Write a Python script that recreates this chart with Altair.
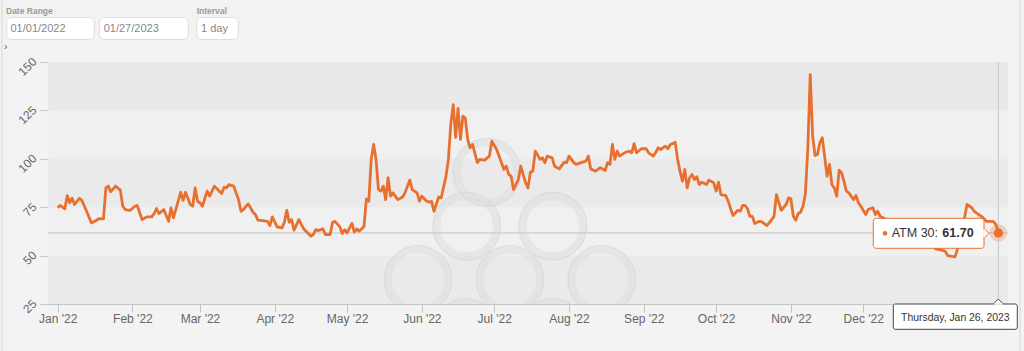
import altair as alt
import pandas as pd

# ---------------- data ----------------
day_offsets = [
    0, 1, 3, 4, 5, 6, 7, 9, 10, 12, 14, 16, 17, 19, 20, 21, 22, 24, 26, 27, 28, 30, 32, 33, 35, 37, 39, 40,
    41, 42, 44, 46, 47, 48, 51, 52, 53, 55, 56, 57, 58, 59, 60, 62, 63, 65, 67, 68, 69, 70, 71, 73, 75, 76,
    77, 79, 81, 82, 83, 85, 87, 88, 89, 91, 93, 94, 95, 96, 97, 98, 100, 102, 103, 105, 106, 107, 108, 110,
    111, 113, 114, 115, 117, 118, 119, 120, 122, 123, 124, 125, 127, 128, 129, 130, 131, 132, 133, 134, 135,
    136, 137, 138, 139, 141, 143, 144, 146, 147, 149, 150, 151, 153, 154, 155, 156, 158, 159, 161, 162, 163,
    164, 165, 166, 167, 168, 169, 170, 171, 172, 174, 175, 177, 179, 180, 182, 183, 185, 186, 187, 188, 189,
    191, 192, 194, 195, 196, 197, 198, 200, 201, 202, 203, 205, 206, 208, 210, 211, 212, 214, 215, 217, 219,
    220, 221, 223, 225, 227, 228, 229, 230, 231, 232, 233, 235, 237, 238, 239, 240, 242, 244, 245, 247, 248,
    249, 250, 252, 253, 254, 255, 256, 257, 258, 259, 260, 261, 262, 263, 264, 265, 266, 267, 269, 270, 272,
    273, 274, 275, 277, 278, 279, 280, 282, 283, 284, 285, 286, 287, 288, 289, 291, 292, 294, 295, 297, 298,
    299, 300, 302, 303, 304, 305, 306, 307, 308, 309, 310, 311, 312, 313, 314, 315, 316, 317, 318, 319, 320,
    321, 322, 323, 324, 325, 326, 327, 328, 330, 331, 332, 333, 335, 336, 338, 339, 340, 341, 343, 345, 347,
    349, 351, 353, 355, 357, 359, 361, 363, 364, 366, 368, 369, 372, 373, 375, 377, 379, 380, 382, 383, 385,
    387, 388, 389, 390,
]
atm30_values = [
    74.7, 75.9, 74.2, 81.0, 77.3, 79.6, 76.4, 79.5, 78.6, 72.9, 66.9, 68.1, 69.1, 69.0, 85.0, 85.9, 83.0, 85.9,
    83.8, 75.5, 73.8, 73.3, 75.5, 75.9, 68.6, 70.0, 70.0, 71.7, 74.3, 71.7, 73.8, 67.7, 74.7, 69.5, 82.7, 78.5,
    82.7, 76.4, 75.5, 85.0, 78.1, 77.3, 75.5, 83.3, 80.7, 85.9, 83.3, 82.1, 85.3, 85.0, 86.7, 85.9, 78.9, 72.9,
    73.8, 76.7, 72.4, 71.2, 68.3, 68.1, 67.7, 65.5, 70.0, 64.8, 64.3, 67.2, 73.4, 67.2, 68.6, 63.1, 68.6, 63.8,
    62.6, 60.0, 60.9, 63.4, 62.9, 63.8, 60.9, 60.9, 67.2, 67.7, 64.8, 61.4, 63.4, 61.7, 66.6, 62.1, 63.8, 62.6,
    65.0, 79.3, 78.1, 99.7, 107.4, 99.7, 84.1, 83.3, 85.9, 78.9, 90.2, 80.7, 82.4, 78.9, 80.3, 82.4, 89.0, 84.1,
    82.4, 78.1, 80.7, 78.1, 77.6, 78.1, 72.9, 80.3, 79.8, 91.0, 99.7, 118.0, 128.0, 111.0, 126.0, 110.0, 122.0,
    121.0, 110.0, 105.7, 107.4, 98.0, 99.7, 99.3, 101.4, 109.1, 104.8, 101.4, 94.5, 96.2, 91.9, 91.0, 84.1, 89.3,
    96.2, 87.6, 85.0, 93.1, 93.6, 104.0, 99.7, 100.5, 98.0, 101.4, 100.5, 96.2, 94.8, 98.3, 98.0, 101.4, 98.0,
    97.1, 98.0, 98.8, 101.4, 94.8, 93.6, 95.4, 94.0, 98.0, 97.1, 107.4, 99.7, 104.0, 101.4, 103.1, 104.0, 103.1,
    107.8, 103.1, 105.2, 105.2, 103.1, 101.4, 103.4, 105.7, 104.8, 106.5, 105.2, 107.4, 107.8, 108.6, 100.0,
    93.6, 88.4, 94.5, 85.0, 90.2, 91.9, 89.3, 90.7, 86.7, 87.9, 86.7, 89.0, 87.6, 83.3, 87.9, 81.5, 81.0, 78.1,
    74.2, 70.7, 73.4, 72.9, 75.9, 75.9, 74.2, 70.3, 70.3, 66.6, 67.7, 67.4, 65.5, 66.9, 70.3, 81.5, 77.3, 73.4,
    76.4, 79.8, 79.3, 70.3, 68.3, 71.7, 72.4, 75.5, 82.0, 105.0, 143.5, 112.0, 101.7, 102.2, 108.3, 110.9, 101.0,
    91.0, 97.1, 86.7, 85.0, 80.7, 94.1, 92.8, 88.4, 83.3, 82.4, 78.9, 81.0, 77.3, 75.5, 71.2, 73.8, 74.7, 71.2,
    72.9, 70.3, 69.0, 67.0, 68.0, 65.0, 66.0, 63.0, 64.0, 60.0, 61.0, 58.0, 55.0, 53.5, 53.0, 52.2, 50.0, 49.3,
    53.1, 63.0, 76.4, 74.7, 72.9, 71.0, 70.3, 67.7, 67.7, 67.5, 66.0, 61.7,
]
series_name = ["ATM 30: "]
y_ticks = [25, 50, 75, 100, 125, 150]
band_lo = [25, 50, 75, 100, 125]
band_hi = [50, 75, 100, 125, 150]
band_fill = ["#eaeaea", "#f0f0f0", "#eaeaea", "#f0f0f0", "#e9e9e9"]
range_title = ["Date Range"]
range_from = ["01/01/2022"]
range_to = ["01/27/2023"]
interval_title = ["Interval"]
interval_value = ["1 day"]
# watermark ring centres, in chart units (days since 2022-01-01, value)
ring_day = [178.0, 169.6, 205.3, 149.4, 187.5, 225.6, 169.3, 205.3]
ring_val = [93.0, 65.2, 65.2, 37.6, 37.6, 37.6, 10.2, 10.2]

ORANGE = "#e8702f"
FONT = "Liberation Sans"
start = pd.Timestamp("2022-01-01")

df = pd.DataFrame({
    "date": start + pd.to_timedelta(day_offsets, unit="D"),
    "atm30": atm30_values,
})
last = df.tail(1).reset_index(drop=True)
last["name"] = series_name
bands = pd.DataFrame({"lo": band_lo, "hi": band_hi, "fill": band_fill})
rings = pd.DataFrame({
    "date": start + pd.to_timedelta(ring_day, unit="D"),
    "v": ring_val,
})
one = pd.DataFrame({"k": [0]})

x_scale = alt.Scale(domain=[alt.DateTime(year=2021, month=12, date=28),
                            alt.DateTime(year=2023, month=1, date=30)])
y_scale = alt.Scale(domain=[25, 150], nice=False, zero=False)
# the Jan '23 tick sits under the date tooltip in the reference, so it is not listed
month_ticks = [alt.DateTime(year=d.year, month=d.month, date=1)
               for d in pd.date_range("2022-01-01", "2022-12-01", freq="MS")]

x_axis = alt.Axis(values=month_ticks, format="%b '%y", title=None, grid=False,
                  tickSize=8, labelPadding=1, labelFlush=False, labelOverlap=False,
                  domainColor="#c4c4c4", tickColor="#c4c4c4", labelColor="#666666",
                  labelFont=FONT, labelFontSize=12)
y_axis = alt.Axis(values=y_ticks, title=None, grid=False, tickSize=8, labelPadding=3,
                  labelAngle=315, labelAlign="right", labelBaseline="alphabetic",
                  labelOverlap=False, domainColor="#c4c4c4", tickColor="#c4c4c4",
                  labelColor="#666666", labelFont=FONT, labelFontSize=12)

# every layer shares the same scale and the same axis definition
X = lambda f: alt.X(f, type="temporal", scale=x_scale, axis=x_axis)
Y = lambda f: alt.Y(f, type="quantitative", scale=y_scale, axis=y_axis)

# ---------------- page chrome (controls and frame) ----------------
frame_l = alt.Chart(one).mark_rule(color="#d6d6d6").encode(
    x=alt.value(-46), y=alt.value(-62), y2=alt.value(289))
frame_r = alt.Chart(one).mark_rule(color="#d6d6d6").encode(
    x=alt.value(972), y=alt.value(-62), y2=alt.value(289))


def box(x0, x1):
    return alt.Chart(one).mark_rect(fill="white", stroke="#dddddd", strokeWidth=1,
                                    cornerRadius=5).encode(
        x=alt.value(x0), x2=alt.value(x1), y=alt.value(-44.5), y2=alt.value(-22.5))


def label(data, x, y, size, color, weight="normal"):
    return alt.Chart(pd.DataFrame({"t": data})).mark_text(
        align="left", baseline="middle", font=FONT, fontSize=size, color=color,
        fontWeight=weight).encode(x=alt.value(x), y=alt.value(y), text="t:N")


controls = [
    box(-41.3, 46.3), box(51.3, 140.3), box(148.7, 190.3),
    label(range_title, -42, -51.5, 8.5, "#9a9a9a", "bold"),
    label(interval_title, 148.7, -51.5, 8.5, "#9a9a9a", "bold"),
    label(range_from, -37.5, -33, 11, "#888888"),
    label(range_to, 55.7, -33, 11, "#888888"),
    label(interval_value, 153, -33, 11, "#888888"),
    label(["›"], -44, -15, 10, "#555555"),
]

# ---------------- plot ----------------
band_layer = alt.Chart(bands).mark_rect().encode(
    x=alt.value(0), x2=alt.value(960), y=Y("lo"), y2="hi:Q",
    color=alt.Color("fill:N", scale=None))

ring_layer = alt.Chart(rings).mark_point(
    shape="circle", filled=False, size=3700, strokeWidth=8, color="#dedede",
    opacity=0.55, clip=True).encode(x=X("date"), y=Y("v"))
ring_edge = alt.Chart(rings).mark_point(
    shape="circle", filled=False, size=4600, strokeWidth=1, color="#d4d4d4",
    opacity=0.5, clip=True).encode(x=X("date"), y=Y("v"))

h_rule = alt.Chart(last).mark_rule(color="#c2c2c2", strokeWidth=1).encode(y=Y("atm30"))
v_rule = alt.Chart(last).mark_rule(color="#c8c8c8", strokeWidth=1).encode(x=X("date"))

line = alt.Chart(df).mark_line(color=ORANGE, strokeWidth=2.8, strokeJoin="round").encode(
    x=X("date"), y=Y("atm30"))

halo = alt.Chart(last).mark_circle(size=300, color=ORANGE, opacity=0.25).encode(
    x=X("date"), y=Y("atm30"))
marker = alt.Chart(last).mark_circle(size=85, color=ORANGE, opacity=1).encode(
    x=X("date"), y=Y("atm30"))

# value tooltip
tip_box = alt.Chart(one).mark_rect(fill="white", stroke=ORANGE, strokeWidth=1,
                                   cornerRadius=3).encode(
    x=alt.value(825.3), x2=alt.value(936), y=alt.value(156.3), y2=alt.value(186.3))
tip_arrow = alt.Chart(one).mark_point(shape="M0,-1L1,0L0,1Z", size=100, filled=True,
                                      fill="white", stroke=ORANGE, strokeWidth=1,
                                      opacity=1).encode(x=alt.value(936), y=alt.value(171.3))
tip_seam = alt.Chart(one).mark_rule(color="white", strokeWidth=1.6).encode(
    x=alt.value(936), y=alt.value(166.8), y2=alt.value(175.8))
tip_dot = alt.Chart(one).mark_circle(size=22, color=ORANGE, opacity=1).encode(
    x=alt.value(837), y=alt.value(171.3))
tip_name = alt.Chart(last).mark_text(align="left", baseline="middle", font=FONT,
                                     fontSize=12.5, color="#333333").encode(
    x=alt.value(843.7), y=alt.value(171.3), text="name:N")
tip_val = alt.Chart(last).mark_text(align="left", baseline="middle", font=FONT,
                                    fontSize=12.5, fontWeight="bold", color="#333333").encode(
    x=alt.value(894.3), y=alt.value(171.3), text=alt.Text("atm30:Q", format=".2f"))

# date tooltip on the x axis
date_box = alt.Chart(one).mark_rect(fill="white", stroke="#444444", strokeWidth=1,
                                    cornerRadius=2).encode(
    x=alt.value(845.3), x2=alt.value(969.3), y=alt.value(242), y2=alt.value(267.3))
date_arrow = alt.Chart(one).mark_point(shape="M-1,0L0,-1L1,0Z", size=100, filled=True,
                                       fill="white", stroke="#444444", strokeWidth=1,
                                       opacity=1).encode(x=alt.value(950.3), y=alt.value(242))
date_seam = alt.Chart(one).mark_rule(color="white", strokeWidth=1.6).encode(
    x=alt.value(945.8), x2=alt.value(954.8), y=alt.value(242))
date_text = alt.Chart(last).mark_text(align="center", baseline="middle", font=FONT,
                                      fontSize=10.4, color="#333333").encode(
    x=alt.value(907.3), y=alt.value(256), text=alt.Text("date:T", format="%A, %b %d, %Y"))

chart = alt.layer(
    band_layer, frame_l, frame_r, *controls,
    ring_layer, ring_edge, h_rule, v_rule, line, halo, marker,
    tip_box, tip_arrow, tip_seam, tip_dot, tip_name, tip_val,
    date_box, date_arrow, date_seam, date_text,
).properties(
    width=960, height=242,
    padding={"left": 48, "top": 62, "right": 16, "bottom": 47},
    autosize=alt.AutoSizeParams(type="none"),
).configure(background="#f3f3f3").configure_view(stroke=None)

chart.save("out.html", embed_options={"renderer": "svg", "actions": False})
